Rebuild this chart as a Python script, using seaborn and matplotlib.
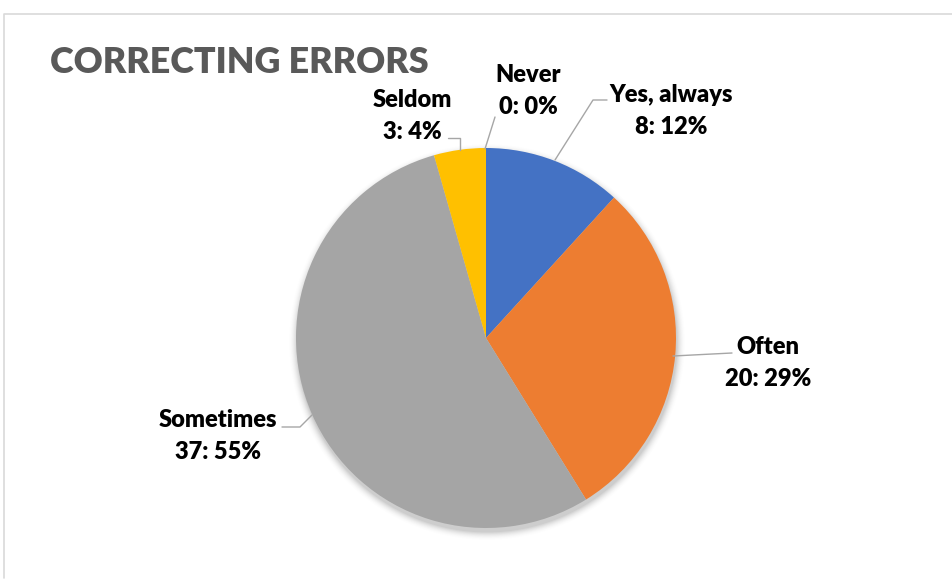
import numpy as np
import matplotlib
matplotlib.use("Agg")
import matplotlib.pyplot as plt
import seaborn as sns

sns.set_theme(style="white")
plt.rcParams["font.family"] = ["Lato", "DejaVu Sans"]

# Survey answers
categories = ["Yes, always", "Often", "Sometimes", "Seldom", "Never"]
counts = [8, 20, 37, 3, 0]
percent_labels = ["12%", "29%", "55%", "4%", "0%"]
colors = ["#4472C4", "#ED7D31", "#A5A5A5", "#FFC000", "#5B9BD5"]

W, H = 953, 579
fig = plt.figure(figsize=(W / 100, H / 100), dpi=100)
ax = fig.add_axes([0, 0, 1, 1])

def Y(y):
    return H - y

cx, cy, r = 486, Y(338), 190

# soft drop shadow under the pie
gx, gy = np.meshgrid(np.arange(W) + 0.5, np.arange(H) + 0.5)
d = np.hypot(gx - (cx + 1), gy - (cy - 4)) - r
shadow = np.clip(1 - d / 9.0, 0, 1) ** 2 * 0.35
rgba = np.zeros((H, W, 4))
rgba[..., :3] = 0.45
rgba[..., 3] = shadow
ax.imshow(rgba, extent=(0, W, 0, H), origin="lower", zorder=0, interpolation="bilinear")

ax.pie(counts, colors=colors, startangle=90, counterclock=False,
       center=(cx, cy), radius=r, frame=True,
       wedgeprops=dict(linewidth=0, zorder=2))
ax.set_xlim(0, W)
ax.set_ylim(0, H)
ax.set_aspect("equal")
ax.axis("off")

# chart border (left and top)
ax.plot([4.5, 4.5, W], [Y(578), Y(13.5), Y(13.5)], color="#d9d9d9", lw=1.2, zorder=1)

ax.text(50, Y(62), "CORRECTING ERRORS", fontsize=25.8, fontweight="heavy",
        color="#595959", ha="left", va="center")

# data labels: (x, y of first line) in pixels
label_pos = {
    "Yes, always": (671, 95),
    "Often": (768, 347),
    "Sometimes": (218, 420),
    "Seldom": (412, 100),
    "Never": (528, 75),
}
for cat, n, pct in zip(categories, counts, percent_labels):
    x, y = label_pos[cat]
    ax.text(x, Y(y), cat, fontsize=17, fontweight="heavy", color="black",
            ha="center", va="center", zorder=4)
    ax.text(x, Y(y + 32), f"{n}: {pct}", fontsize=17, fontweight="heavy",
            color="black", ha="center", va="center", zorder=4)

# leader lines
leaders = [
    [(485, 149), (495, 117)],
    [(555, 160), (593, 100), (607, 100)],
    [(460, 150), (460, 138), (448, 138)],
    [(673, 356), (732, 353)],
    [(312, 415), (300, 427), (282, 427)],
]
for pts in leaders:
    xs = [p[0] for p in pts]
    ys = [Y(p[1]) for p in pts]
    ax.plot(xs, ys, color="#a6a6a6", lw=1.0, zorder=3)

fig.savefig("out.png", dpi=100, facecolor="white")
